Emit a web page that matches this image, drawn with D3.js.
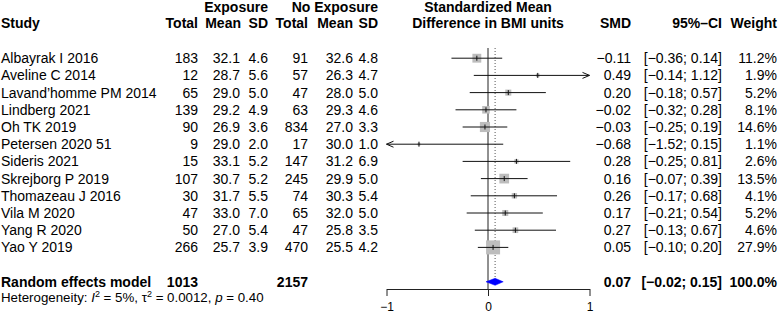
<!DOCTYPE html>
<html lang="en">
<head>
    <meta charset="UTF-8">
    <script src="https://cdnjs.cloudflare.com/ajax/libs/d3/7.8.5/d3.min.js"></script>
    <style>
        body { margin: 0; background: #fff; }
        svg { font-family: "Liberation Sans", Arial, Helvetica, sans-serif; font-size: 14px; }
        .bold { font-weight: bold; }
    </style>
</head>
<body>
<svg width="778" height="316"></svg>
<script>
    const studies = ['Albayrak I 2016', 'Aveline C 2014', 'Lavand\u2019homme PM 2014', 'Lindberg 2021', 'Oh TK 2019',
        'Petersen 2020 51', 'Sideris 2021', 'Skrejborg P 2019', 'Thomazeau J 2016', 'Vila M 2020', 'Yang R 2020', 'Yao Y 2019'];
    const expTotal = [183, 12, 65, 139, 90, 9, 15, 107, 30, 47, 50, 266];
    const expMean = [32.1, 28.7, 29.0, 29.2, 26.9, 29.0, 33.1, 30.7, 31.7, 33.0, 27.0, 25.7];
    const expSD = [4.6, 5.6, 5.0, 4.9, 3.6, 2.0, 5.2, 5.2, 5.5, 7.0, 5.4, 3.9];
    const noTotal = [91, 57, 47, 63, 834, 17, 147, 245, 74, 65, 47, 470];
    const noMean = [32.6, 26.3, 28.0, 29.3, 27.0, 30.0, 31.2, 29.9, 30.3, 32.0, 25.8, 25.5];
    const noSD = [4.8, 4.7, 5.0, 4.6, 3.3, 1.0, 6.9, 5.0, 5.4, 5.0, 3.5, 4.2];
    const smd = [-0.11, 0.49, 0.20, -0.02, -0.03, -0.68, 0.28, 0.16, 0.26, 0.17, 0.27, 0.05];
    const ciLow = [-0.36, -0.14, -0.18, -0.32, -0.25, -1.52, -0.25, -0.07, -0.17, -0.21, -0.13, -0.10];
    const ciHigh = [0.14, 1.12, 0.57, 0.28, 0.19, 0.15, 0.81, 0.39, 0.68, 0.54, 0.67, 0.20];
    const weight = [11.2, 1.9, 5.2, 8.1, 14.6, 1.1, 2.6, 13.5, 4.1, 5.2, 4.6, 27.9];

    const pooledLabel = 'Random effects model';
    const pooledTotals = [1013, 2157];
    const pooled = { smd: 0.07, lo: -0.02, hi: 0.15, weight: 100.0 };
    const axisTicks = [-1, 0, 1];

    const svg = d3.select('svg');
    const x = d3.scaleLinear().domain([-1, 1]).range([386.5, 589.5]);
    const y = d3.scaleLinear().domain([0, 1]).range([58.2, 75.4]); // row index -> row centre
    const side = d3.scaleSqrt().domain([0, 27.9]).range([0, 14]);
    const f1 = d3.format('.1f'), f2 = d3.format('.2f');

    const rows = studies.map((s, i) => ({
        i, s, et: expTotal[i], em: expMean[i], es: expSD[i], nt: noTotal[i], nm: noMean[i], ns: noSD[i],
        smd: smd[i], lo: ciLow[i], hi: ciHigh[i], w: weight[i]
    }));
    const pooledRow = 13;

    // headers
    const head = svg.append('g').attr('class', 'bold');
    head.append('text').attr('x', 268).attr('y', 11.5).attr('text-anchor', 'end').text('Exposure');
    head.append('text').attr('x', 378).attr('y', 11.5).attr('text-anchor', 'end').text('No Exposure');
    head.append('text').attr('x', 488).attr('y', 11.5).attr('text-anchor', 'middle').text('Standardized Mean');
    head.append('text').attr('x', 488).attr('y', 28).attr('text-anchor', 'middle').text('Difference in BMI units');
    [['Study', 1, 'start'], ['Total', 198, 'end'], ['Mean', 241, 'end'], ['SD', 268, 'end'],
     ['Total', 308, 'end'], ['Mean', 353, 'end'], ['SD', 378, 'end'],
     ['SMD', 631, 'end'], ['95%\u2013CI', 722, 'end'], ['Weight', 777, 'end']]
        .forEach(([t, xx, a]) => head.append('text').attr('x', xx).attr('y', 28).attr('text-anchor', a).text(t));

    // table columns
    const cols = [
        { x: 1, a: 'start', f: d => d.s },
        { x: 198, a: 'end', f: d => d.et },
        { x: 240, a: 'end', f: d => f1(d.em) },
        { x: 268, a: 'end', f: d => f1(d.es) },
        { x: 308, a: 'end', f: d => d.nt },
        { x: 353, a: 'end', f: d => f1(d.nm) },
        { x: 378, a: 'end', f: d => f1(d.ns) },
        { x: 631, a: 'end', f: d => f2(d.smd) },
        { x: 722, a: 'end', f: d => '[' + f2(d.lo) + '; ' + f2(d.hi) + ']' },
        { x: 777, a: 'end', f: d => f1(d.w) + '%' }
    ];
    cols.forEach(c => {
        svg.append('g').selectAll('text').data(rows).enter().append('text')
            .attr('x', c.x).attr('y', d => y(d.i) + 5).attr('text-anchor', c.a).text(c.f);
    });

    // pooled row
    const pr = svg.append('g').attr('class', 'bold');
    const py = y(pooledRow) + 5;
    pr.append('text').attr('x', 1).attr('y', py).text(pooledLabel);
    pr.append('text').attr('x', 198).attr('y', py).attr('text-anchor', 'end').text(pooledTotals[0]);
    pr.append('text').attr('x', 308).attr('y', py).attr('text-anchor', 'end').text(pooledTotals[1]);
    pr.append('text').attr('x', 631).attr('y', py).attr('text-anchor', 'end').text(f2(pooled.smd));
    pr.append('text').attr('x', 722).attr('y', py).attr('text-anchor', 'end').text('[' + f2(pooled.lo) + '; ' + f2(pooled.hi) + ']');
    pr.append('text').attr('x', 777).attr('y', py).attr('text-anchor', 'end').text(f1(pooled.weight) + '%');

    // heterogeneity
    const het = svg.append('text').attr('x', 1).attr('y', 302).style('font-size', '13.3px');
    het.append('tspan').text('Heterogeneity: ');
    het.append('tspan').style('font-style', 'italic').text('I');
    het.append('tspan').attr('dy', -5).style('font-size', '9px').text('2');
    het.append('tspan').attr('dy', 5).text(' = 5%, \u03c4');
    het.append('tspan').attr('dy', -5).style('font-size', '9px').text('2');
    het.append('tspan').attr('dy', 5).text(' = 0.0012, ');
    het.append('tspan').style('font-style', 'italic').text('p');
    het.append('tspan').text(' = 0.40');

    // reference lines
    const axisY = 289;
    svg.append('line').attr('x1', x(0)).attr('x2', x(0)).attr('y1', 48).attr('y2', axisY)
        .attr('stroke', '#222').attr('stroke-width', 1);
    svg.append('line').attr('x1', x(pooled.smd)).attr('x2', x(pooled.smd)).attr('y1', 48).attr('y2', y(pooledRow) - 3.5)
        .attr('stroke', '#555').attr('stroke-width', 1).attr('stroke-dasharray', '1,2');

    // study marks
    const plot = svg.append('g');
    const clampLo = d => Math.max(d.lo, -1), clampHi = d => Math.min(d.hi, 1);
    plot.selectAll('rect').data(rows).enter().append('rect')
        .attr('x', d => x(d.smd) - side(d.w) / 2).attr('y', d => y(d.i) - side(d.w) / 2)
        .attr('width', d => side(d.w)).attr('height', d => side(d.w))
        .attr('fill', '#bdbdbd');
    plot.selectAll('line.ci').data(rows).enter().append('line').attr('class', 'ci')
        .attr('x1', d => x(clampLo(d))).attr('x2', d => x(clampHi(d)))
        .attr('y1', d => y(d.i)).attr('y2', d => y(d.i))
        .attr('stroke', '#111').attr('stroke-width', 1);
    plot.selectAll('line.pt').data(rows).enter().append('line').attr('class', 'pt')
        .attr('x1', d => x(d.smd)).attr('x2', d => x(d.smd))
        .attr('y1', d => y(d.i) - 2.5).attr('y2', d => y(d.i) + 2.5)
        .attr('stroke', '#111').attr('stroke-width', 1);
    // arrows for truncated intervals
    const arrowPath = (xe, yy, dir) => `M${xe - dir * 7},${yy - 3}L${xe},${yy}L${xe - dir * 7},${yy + 3}`;
    plot.selectAll('path.arr').data(rows.filter(d => d.hi > 1 || d.lo < -1)).enter().append('path').attr('class', 'arr')
        .attr('d', d => d.hi > 1 ? arrowPath(x(1), y(d.i), 1) : arrowPath(x(-1), y(d.i), -1))
        .attr('fill', 'none').attr('stroke', '#111').attr('stroke-width', 1);

    // diamond
    const dy0 = y(pooledRow);
    svg.append('path')
        .attr('d', `M${x(pooled.lo)},${dy0}L${x(pooled.smd)},${dy0 - 3.5}L${x(pooled.hi)},${dy0}L${x(pooled.smd)},${dy0 + 3.5}Z`)
        .attr('fill', '#0000ff').attr('stroke', '#0000ff').attr('stroke-width', 0.5);

    // axis
    const axis = svg.append('g').attr('transform', `translate(0,${axisY})`)
        .call(d3.axisBottom(x).tickValues(axisTicks).tickFormat(d3.format('d')).tickSize(7).tickSizeOuter(0));
    axis.select('.domain').attr('stroke', '#222');
    axis.selectAll('.tick line').attr('stroke', '#222');
    axis.selectAll('.tick text').attr('fill', '#000').attr('dy', 0).attr('y', 22)
        .style('font-family', '"Liberation Sans", Arial, sans-serif').style('font-size', '12px');
</script>
</body>
</html>
